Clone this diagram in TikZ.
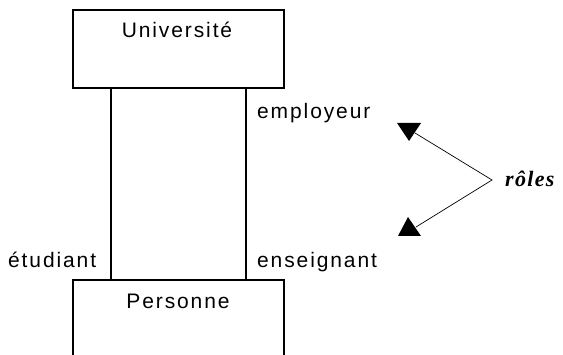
\documentclass[tikz,border=0pt]{standalone}
\usepackage{fontspec}
\setmainfont{Liberation Sans}
\newfontfamily\rolefont{Liberation Serif}
\begin{document}
\begin{tikzpicture}[x=1pt,y=-1pt,
  entity/.style={draw,line width=1.4pt,minimum width=211pt,minimum height=78pt,inner sep=0pt},
  lbl/.style={font=\fontsize{21}{24}\selectfont\addfontfeature{LetterSpace=9},inner sep=0pt},
  link/.style={line width=1.4pt},
  pointer/.style={line width=0.7pt},
  tip/.style={fill=black}]
\useasboundingbox (0,0) rectangle (563,355);
% Université entity box
\node[entity] (uni) at (178.5,49) {};
\node[lbl,anchor=base] (unit) at (177,38) {Université};
% Personne entity, cut off at the lower edge
\coordinate (pnw) at (73,280);
\coordinate (pne) at (284,280);
\draw[line width=1.4pt] (73,356) -- (pnw) -- (pne) -- (284,356);
\node[lbl,anchor=base] (perst) at (178,309) {Personne};
% association links
\coordinate (la) at (111,88);
\coordinate (lb) at (111,280);
\coordinate (ra) at (246,88);
\coordinate (rb) at (246,280);
\draw[link] (la) -- (lb);
\draw[link] (ra) -- (rb);
% role names
\node[lbl,anchor=base west] (emp) at (257,119) {employeur};
\node[lbl,anchor=base west] (etu) at (8,268) {étudiant};
\node[lbl,anchor=base west] (ens) at (257,268) {enseignant};
% role annotation
\node[anchor=base west,inner sep=0pt,font=\rolefont\fontsize{22}{26}\selectfont\bfseries\itshape\addfontfeature{LetterSpace=6}] (roles) at (505,187) {rôles};
\coordinate (v) at (492,180);
\coordinate (t1) at (415,133);
\coordinate (t2) at (416,227);
\fill[tip] (397,123) -- (421,123) -- (409,141) -- cycle;
\fill[tip] (398,236) -- (421,236) -- (408,217) -- cycle;
\draw[pointer] (t1) -- (v) -- (t2);
\end{tikzpicture}
\end{document}
